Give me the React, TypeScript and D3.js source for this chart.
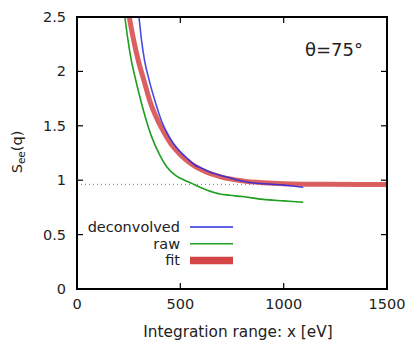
import React, { useRef, useEffect } from "react";
import * as d3 from "d3";

const fitX = [240, 253, 275, 295, 325, 352, 393, 424, 460, 500, 550, 600, 700, 800, 900, 1000, 1200, 1500];
const fitY = [2.66, 2.5, 2.28, 2.11, 1.91, 1.73, 1.54, 1.43, 1.32, 1.235, 1.154, 1.097, 1.028, 0.994, 0.977, 0.968, 0.962, 0.96];

const deconvX = [290, 300, 312, 327, 345, 376, 410, 440, 466, 500, 539, 570, 603, 650, 692, 724, 780, 853, 900, 950, 1000, 1050, 1095];
const deconvY = [2.68, 2.5, 2.29, 2.1, 1.95, 1.737, 1.54, 1.42, 1.339, 1.26, 1.19, 1.14, 1.11, 1.07, 1.045, 1.03, 1.0, 0.975, 0.968, 0.962, 0.955, 0.945, 0.935];

const rawX = [220, 232, 245, 260, 283, 308, 329, 345, 360, 400, 434, 480, 520, 555, 600, 627, 692, 740, 800, 900, 1000, 1095];
const rawY = [2.75, 2.5, 2.31, 2.13, 1.93, 1.737, 1.59, 1.49, 1.405, 1.233, 1.124, 1.04, 1.0, 0.971, 0.93, 0.91, 0.873, 0.862, 0.85, 0.824, 0.81, 0.797];

const refLevel = 0.962;
const xTicks = [0, 500, 1000, 1500];
const yTicks = [0, 0.5, 1, 1.5, 2, 2.5];

const legendItems = [
  { label: "deconvolved", color: "#2a2ae0", width: 1.6 },
  { label: "raw", color: "#1f9e1f", width: 1.6 },
  { label: "fit", color: "#d54545", width: 7.5 },
];

const W = 414;
const H = 343;
const margin = { left: 77, right: 27, top: 17, bottom: 54 };
const font = "DejaVu Sans, sans-serif";

const App = () => {
  const svgRef = useRef(null);

  useEffect(() => {
    const svg = d3.select(svgRef.current);
    svg.selectAll("*").remove();

    const x = d3.scaleLinear().domain([0, 1500]).range([margin.left, W - margin.right]);
    const y = d3.scaleLinear().domain([0, 2.5]).range([H - margin.bottom, margin.top]);

    svg
      .append("defs")
      .append("clipPath")
      .attr("id", "plot")
      .append("rect")
      .attr("x", x(0))
      .attr("y", y(2.5))
      .attr("width", x(1500) - x(0))
      .attr("height", y(0) - y(2.5));

    const plot = svg.append("g").attr("clip-path", "url(#plot)");

    plot
      .append("line")
      .attr("x1", x(0))
      .attr("x2", x(1500))
      .attr("y1", y(refLevel))
      .attr("y2", y(refLevel))
      .attr("stroke", "#777")
      .attr("stroke-width", 1)
      .attr("stroke-dasharray", "1,3");

    const line = d3
      .line()
      .x((d) => x(d[0]))
      .y((d) => y(d[1]))
      .curve(d3.curveMonotoneX);

    plot
      .append("path")
      .attr("d", line(d3.zip(fitX, fitY)))
      .attr("fill", "none")
      .attr("stroke", legendItems[2].color)
      .attr("stroke-opacity", 0.85)
      .attr("stroke-width", 5);

    plot
      .append("path")
      .attr("d", line(d3.zip(deconvX, deconvY)))
      .attr("fill", "none")
      .attr("stroke", legendItems[0].color)
      .attr("stroke-opacity", 0.85)
      .attr("stroke-width", 1.6);

    plot
      .append("path")
      .attr("d", line(d3.zip(rawX, rawY)))
      .attr("fill", "none")
      .attr("stroke", legendItems[1].color)
      .attr("stroke-width", 1.6);

    // frame + mirrored inward ticks
    const tl = 6;
    const axes = svg.append("g").attr("stroke", "#000").attr("stroke-width", 1.2);
    xTicks.forEach((t) => {
      axes.append("line").attr("x1", x(t)).attr("x2", x(t)).attr("y1", y(0)).attr("y2", y(0) - tl);
      axes.append("line").attr("x1", x(t)).attr("x2", x(t)).attr("y1", y(2.5)).attr("y2", y(2.5) + tl);
    });
    yTicks.forEach((t) => {
      axes.append("line").attr("x1", x(0)).attr("x2", x(0) + tl).attr("y1", y(t)).attr("y2", y(t));
      axes.append("line").attr("x1", x(1500)).attr("x2", x(1500) - tl).attr("y1", y(t)).attr("y2", y(t));
    });
    svg
      .append("rect")
      .attr("x", x(0))
      .attr("y", y(2.5))
      .attr("width", x(1500) - x(0))
      .attr("height", y(0) - y(2.5))
      .attr("fill", "none")
      .attr("stroke", "#000")
      .attr("stroke-width", 2);

    const text = svg.append("g").attr("font-family", font).attr("font-size", 14.5).attr("fill", "#222");

    xTicks.forEach((t) => {
      text.append("text").attr("x", x(t)).attr("y", y(0) + 20).attr("text-anchor", "middle").text(t);
    });
    yTicks.forEach((t) => {
      text
        .append("text")
        .attr("x", x(0) - 11)
        .attr("y", y(t))
        .attr("dy", "0.35em")
        .attr("text-anchor", "end")
        .text(t);
    });

    text
      .append("text")
      .attr("x", 238)
      .attr("y", 337)
      .attr("text-anchor", "middle")
      .attr("font-size", 15.3)
      .text("Integration range: x [eV]");

    const yl = text
      .append("text")
      .attr("transform", "translate(22,152) rotate(-90)")
      .attr("text-anchor", "middle");
    yl.append("tspan").text("S");
    yl.append("tspan").attr("font-size", 10.5).attr("dy", 3).text("ee");
    yl.append("tspan").attr("dy", -3).text("(q)");

    text
      .append("text")
      .attr("x", 334)
      .attr("y", 56)
      .attr("text-anchor", "middle")
      .attr("font-size", 18)
      .text("θ=75°");

    legendItems.forEach((d, i) => {
      const ly = 227 + i * 16.7;
      text
        .append("text")
        .attr("x", 180)
        .attr("y", ly)
        .attr("dy", "0.35em")
        .attr("text-anchor", "end")
        .text(d.label);
      svg
        .append("line")
        .attr("x1", 190)
        .attr("x2", 233)
        .attr("y1", ly)
        .attr("y2", ly)
        .attr("stroke", d.color)
        .attr("stroke-width", d.width);
    });
  }, []);

  return (
    <svg
      ref={svgRef}
      width={W}
      height={H}
      style={{ position: "absolute", left: 0, top: 0, background: "#fff" }}
    />
  );
};

export default App;
